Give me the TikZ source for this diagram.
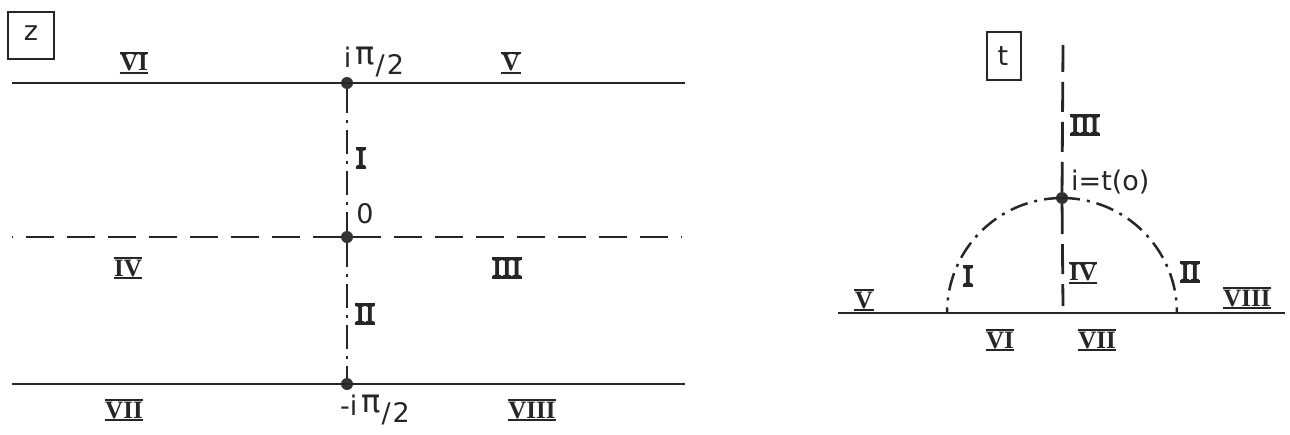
\documentclass[tikz,border=0pt]{standalone}
\usepackage{fontspec}
\setmainfont{Liberation Serif}
\newfontfamily\lab{DejaVu Sans}
\newcommand{\rn}[1]{\leavevmode\vbox{\hrule height 2.2pt\kern0.2pt\hbox{\kern0.5pt\bfseries#1\kern0.5pt}\kern0.2pt\hrule height 2.2pt}}
\newcommand{\halfpi}{i\kern4pt\raisebox{0.1em}{\fontsize{32}{34}\selectfont π}\kern1pt\raisebox{-0.25em}{/\kern2pt2}}
\begin{document}
\begin{tikzpicture}[x=1pt,y=-1pt,
  solidline/.style={line width=2.8pt, draw=black!85},
  dashline/.style={line width=2.8pt, draw=black!85, dash pattern=on 28pt off 13pt},
  dashdot/.style={line width=2.8pt, draw=black!85, dash pattern=on 24pt off 7pt on 3pt off 7pt},
  arcdd/.style={line width=2.5pt, draw=black!85, dash pattern=on 18pt off 7pt on 3pt off 7pt},
  pt/.style={circle, fill=black!80, inner sep=0pt, minimum size=12pt},
  num/.style={font=\fontsize{25}{28}\selectfont, inner sep=0pt, text=black!85},
  lbl/.style={font=\lab\fontsize{27}{30}\selectfont, inner sep=0pt, text=black!85},
  frame/.style={draw=black!85, line width=2pt, inner sep=0pt}
]
\useasboundingbox (0,0) rectangle (1290,434);
% ---------- z plane ----------
\node[frame, minimum width=46pt, minimum height=47pt] (zbox) at (31,35) {};
\node[lbl] (zlab) at (31,33) {z};
\coordinate (tl) at (12,83);   \coordinate (tr) at (685,83);
\coordinate (ml) at (12,237);  \coordinate (mr) at (682,237);
\coordinate (bl) at (12,384);  \coordinate (br) at (685,384);
\node[pt] (ptop) at (347,83) {};
\node[pt] (pmid) at (347,237) {};
\node[pt] (pbot) at (347,384) {};
\draw[solidline] (tl) -- (tr);
\draw[solidline] (bl) -- (br);
\draw[dashline] (pmid) -- (ml);
\draw[dashline] (pmid) -- (mr);
\draw[dashdot] (ptop) -- (pmid);
\draw[dashdot] (pmid) -- (pbot);
\node[lbl] (ltop) at (374,62) {\halfpi};
\node[lbl] (lzero) at (365,214) {0};
\node[lbl] (lbot) at (375,410) {-\halfpi};
\node[num] (zVI) at (134,63) {\rn{VI}};
\node[num] (zV) at (511,63) {\rn{V}};
\node[num] (zI) at (361,158) {\rn{I}};
\node[num] (zIV) at (128,268) {\rn{IV}};
\node[num] (zIII) at (507,268) {\rn{III}};
\node[num] (zII) at (365,314) {\rn{II}};
\node[num] (zVII) at (124,410) {\rn{VII}};
\node[num] (zVIII) at (532,410) {\rn{VIII}};
% ---------- t plane ----------
\node[frame, minimum width=34pt, minimum height=48pt] (tbox) at (1004,56) {};
\node[lbl] (tlab) at (1003,56) {t};
\coordinate (bll) at (838,313); \coordinate (brr) at (1285,313);
\coordinate (vtop) at (1063,45); \coordinate (vbot) at (1063,306);
\node[pt] (pi) at (1062,198) {};
\draw[solidline] (bll) -- (brr);
\draw[dashline, dash pattern=on 30pt off 10pt] (pi) -- (vtop);
\draw[dashline, dash pattern=on 30pt off 10pt] (pi) -- (vbot);
\draw[arcdd] (pi.center) arc[start angle=270, end angle=180, radius=115];
\draw[arcdd] (pi.center) arc[start angle=270, end angle=360, radius=115];
\node[lbl, anchor=west] (li) at (1071,182) {i=t(o)};
\node[num] (tIII) at (1085,125) {\rn{III}};
\node[num] (tI) at (968,276) {\rn{I}};
\node[num] (tIV) at (1083,273) {\rn{IV}};
\node[num] (tII) at (1190,272) {\rn{II}};
\node[num] (tV) at (864,300) {\rn{V}};
\node[num] (tVIII) at (1247,298) {\rn{VIII}};
\node[num] (tVI) at (1000,340) {\rn{VI}};
\node[num] (tVII) at (1097,340) {\rn{VII}};
\end{tikzpicture}
\end{document}
